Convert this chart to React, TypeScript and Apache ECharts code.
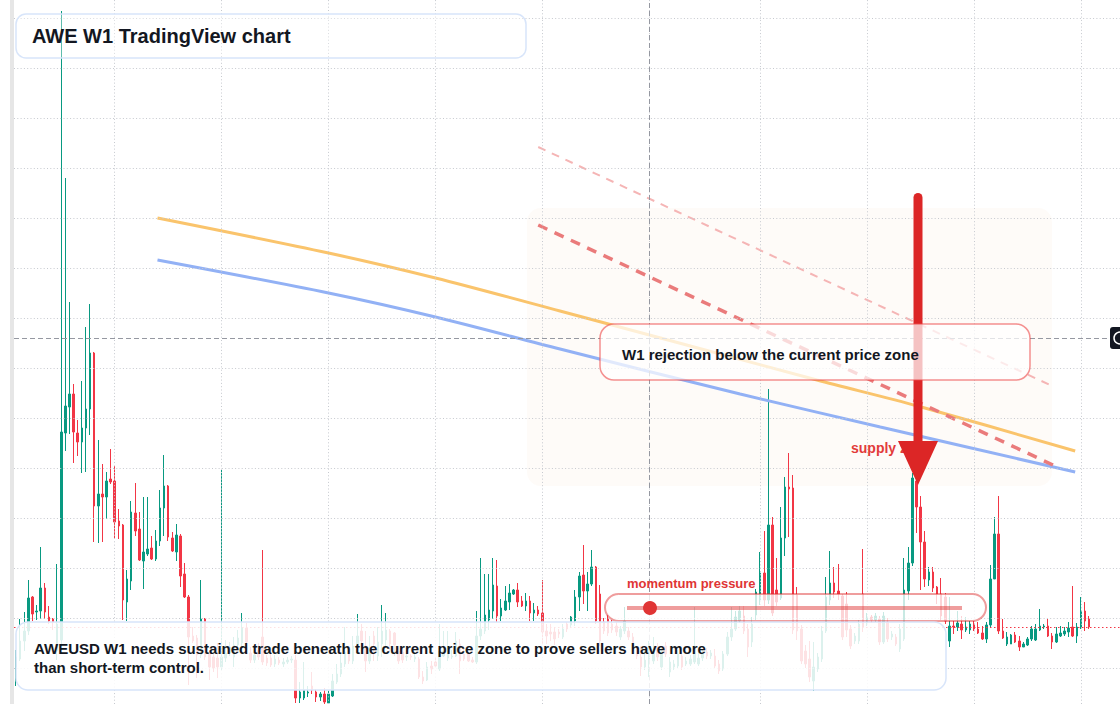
import { useEffect, useRef } from "react";
import * as echarts from "echarts";

// Weekly AWEUSD candles, prices in ten-thousandths of a dollar
const PRICE_UNIT = 10000;

const OPEN = [
  351, 359, 377, 387, 421, 406, 407, 430, 401, 399,
  367, 378, 585, 611, 624, 585, 576, 590, 609, 665,
  512, 524, 521, 539, 537, 497, 493, 416, 437, 505,
  489, 457, 464, 470, 459, 477, 510, 532, 480, 466,
  482, 444, 421, 382, 380, 363, 399, 365, 361, 360,
  351, 360, 365, 361, 373, 375, 390, 365, 358, 368,
  381, 360, 360, 354, 358, 354, 356, 358, 358, 320,
  320, 325, 332, 326, 321, 324, 315, 322, 336, 344,
  354, 364, 357, 372, 387, 372, 357, 382, 362, 374,
  378, 387, 385, 367, 366, 361, 362, 359, 359, 341,
  338, 352, 356, 349, 362, 360, 361, 362, 374, 364,
  364, 358, 356, 382, 387, 398, 407, 432, 402, 408,
  416, 424, 428, 417, 412, 417, 405, 408, 405, 387,
  386, 386, 386, 381, 394, 393, 397, 421, 443, 427,
  434, 451, 424, 396, 399, 394, 392, 381, 387, 387,
  381, 367, 361, 351, 354, 357, 371, 351, 372, 346,
  351, 352, 362, 354, 354, 356, 354, 360, 366, 362,
  362, 354, 349, 364, 381, 389, 397, 402, 389, 376,
  403, 418, 445, 418, 493, 428, 420, 480, 531, 530,
  423, 389, 367, 359, 337, 349, 359, 387, 418, 435,
  427, 422, 414, 389, 377, 377, 424, 395, 401, 398,
  399, 376, 396, 381, 381, 369, 379, 427, 455, 537,
  511, 476, 438, 446, 431, 424, 421, 377, 392, 391,
  394, 388, 388, 394, 389, 385, 379, 393, 439, 484,
  387, 374, 374, 383, 377, 371, 373, 379, 378, 388,
  391, 392, 382, 376, 382, 384, 386, 391, 382, 390,
  407, 399,
];

const CLOSE = [
  361, 377, 387, 420, 404, 407, 430, 406, 397, 396,
  394, 586, 612, 624, 586, 576, 590, 609, 665, 512,
  524, 521, 537, 536, 496, 492, 418, 439, 506, 487,
  458, 466, 469, 459, 477, 510, 532, 481, 467, 483,
  442, 421, 381, 377, 363, 399, 361, 351, 350, 351,
  361, 365, 371, 373, 380, 390, 376, 358, 363, 361,
  356, 355, 353, 359, 355, 356, 358, 359, 320, 326,
  328, 326, 328, 321, 324, 316, 324, 337, 344, 355,
  366, 357, 372, 382, 377, 357, 366, 374, 376, 387,
  388, 374, 373, 357, 358, 362, 361, 361, 341, 337,
  351, 349, 352, 367, 367, 364, 362, 377, 357, 359,
  357, 356, 382, 389, 403, 408, 433, 402, 410, 417,
  425, 428, 416, 412, 417, 405, 408, 404, 386, 382,
  384, 379, 384, 389, 389, 401, 421, 442, 427, 434,
  451, 397, 377, 387, 385, 388, 386, 389, 397, 381,
  367, 362, 351, 358, 364, 367, 361, 366, 364, 356,
  354, 364, 351, 357, 359, 372, 360, 364, 362, 365,
  352, 347, 364, 381, 389, 401, 407, 387, 371, 394,
  426, 445, 418, 493, 405, 416, 480, 531, 529, 388,
  387, 357, 354, 341, 351, 361, 387, 421, 435, 426,
  424, 381, 388, 372, 382, 394, 391, 401, 398, 402,
  376, 402, 379, 384, 374, 389, 428, 455, 540, 511,
  476, 439, 446, 430, 424, 402, 397, 392, 391, 395,
  388, 391, 394, 389, 385, 379, 393, 439, 484, 387,
  380, 381, 383, 376, 371, 374, 379, 389, 389, 392,
  392, 382, 376, 384, 385, 387, 390, 382, 391, 407,
  397, 391,
];

const LOW = [
  332, 357, 367, 383, 397, 398, 399, 399, 394, 388,
  358, 373, 567, 584, 555, 562, 545, 546, 583, 476,
  475, 476, 499, 534, 479, 479, 398, 397, 428, 482,
  457, 429, 462, 458, 457, 472, 482, 477, 466, 457,
  431, 420, 333, 375, 340, 360, 358, 338, 346, 340,
  348, 356, 362, 351, 368, 368, 368, 355, 355, 358,
  353, 352, 351, 351, 353, 351, 354, 355, 315, 315,
  318, 321, 324, 316, 317, 314, 314, 321, 334, 341,
  351, 354, 354, 364, 367, 346, 354, 357, 357, 361,
  370, 367, 362, 354, 355, 357, 358, 356, 339, 334,
  337, 344, 351, 347, 361, 357, 359, 361, 344, 357,
  356, 355, 354, 378, 384, 388, 399, 396, 397, 407,
  408, 423, 411, 411, 407, 397, 397, 402, 374, 374,
  377, 373, 380, 379, 386, 390, 392, 407, 414, 407,
  432, 394, 372, 384, 382, 385, 382, 378, 384, 378,
  364, 359, 342, 348, 341, 354, 357, 348, 361, 341,
  348, 350, 348, 352, 352, 354, 352, 357, 359, 359,
  350, 344, 347, 362, 377, 387, 395, 384, 361, 371,
  398, 413, 412, 414, 402, 412, 418, 462, 481, 384,
  378, 354, 350, 336, 327, 346, 356, 385, 413, 420,
  418, 378, 381, 369, 374, 374, 386, 392, 395, 396,
  373, 374, 376, 378, 372, 366, 377, 418, 452, 485,
  428, 431, 432, 426, 414, 398, 394, 371, 384, 387,
  379, 386, 384, 387, 384, 378, 375, 390, 439, 384,
  379, 372, 374, 375, 367, 371, 372, 377, 377, 387,
  389, 381, 369, 375, 381, 382, 381, 381, 375, 389,
  387, 389,
];

const HIGH = [
  368, 399, 406, 438, 422, 413, 471, 435, 412, 400,
  454, 1007, 840, 716, 634, 598, 637, 691, 714, 666,
  578, 554, 546, 569, 552, 509, 494, 448, 517, 535,
  506, 521, 521, 482, 488, 528, 563, 533, 486, 494,
  484, 455, 423, 391, 383, 438, 400, 368, 364, 375,
  548, 378, 376, 381, 388, 405, 395, 371, 368, 375,
  468, 363, 365, 363, 361, 360, 361, 362, 363, 336,
  356, 332, 346, 329, 326, 330, 327, 344, 354, 364,
  391, 371, 382, 404, 394, 387, 382, 387, 391, 413,
  405, 389, 386, 372, 370, 365, 364, 366, 361, 347,
  356, 357, 361, 394, 387, 387, 368, 386, 379, 372,
  366, 361, 407, 460, 444, 444, 460, 458, 419, 432,
  434, 429, 435, 422, 425, 422, 415, 412, 438, 394,
  394, 390, 389, 394, 396, 402, 428, 446, 473, 446,
  468, 452, 433, 400, 403, 398, 396, 392, 411, 391,
  385, 370, 372, 367, 377, 381, 375, 370, 376, 361,
  358, 368, 366, 361, 363, 411, 366, 368, 370, 368,
  369, 358, 367, 386, 411, 407, 412, 412, 394, 401,
  429, 466, 487, 629, 501, 460, 511, 541, 565, 543,
  431, 393, 373, 377, 376, 365, 392, 441, 467, 451,
  454, 424, 426, 393, 385, 398, 469, 405, 403, 405,
  402, 406, 400, 387, 384, 394, 460, 471, 545, 548,
  522, 487, 451, 451, 432, 440, 425, 421, 397, 407,
  402, 401, 397, 397, 396, 392, 396, 453, 501, 522,
  399, 386, 384, 386, 382, 376, 381, 392, 394, 409,
  394, 399, 385, 391, 392, 391, 396, 432, 395, 421,
  416, 402,
];

// empty weekly slots kept on the right of the last candle
const EMPTY_SLOTS = 7;
const FIRST_WEEK = "2020-11-02";

// dotted grid
const GRID_PRICES = [0.035, 0.04, 0.045, 0.05, 0.055, 0.06, 0.065, 0.07, 0.075, 0.08, 0.085, 0.09, 0.095, 0.1];
const GRID_WEEKS = [24, 50, 76, 102, 128, 154, 181, 207, 233, 259];

// crosshair
const CROSS_WEEK = 154;
const CROSS_PRICE = 0.068;

// visible price range
const Y_MIN = 0.0314;
const Y_MAX = 0.1018;

// drawn lines: [week index, price]
const ORANGE_LINE = [[34.4, 0.08], [76, 0.0765], [102, 0.074], [132.3, 0.0707], [194.8, 0.0638], [219.3, 0.0612], [257.6, 0.0567]];
const BLUE_LINE = [[34.4, 0.0758], [76, 0.0725], [102, 0.0701], [132.3, 0.0669], [176.1, 0.0624], [210.2, 0.0591], [257.6, 0.0546]];
const FAINT_DASH = [[127, 0.0871], [252, 0.0632]];
const RED_DASH = [[127, 0.0793], [252.2, 0.0553]];

const FONT = '"Liberation Sans", Arial, Helvetica, sans-serif';

export default function App() {
  const ref = useRef<HTMLDivElement>(null);

  useEffect(() => {
    if (!ref.current) return;
    const chart = echarts.init(ref.current, undefined, { renderer: "svg" });

    const n = Math.min(OPEN.length, CLOSE.length, LOW.length, HIGH.length);
    const candles = [];
    for (let i = 0; i < n; i++) {
      candles.push([OPEN[i] / PRICE_UNIT, CLOSE[i] / PRICE_UNIT, LOW[i] / PRICE_UNIT, HIGH[i] / PRICE_UNIT]);
    }
    const start = Date.parse(FIRST_WEEK + "T00:00:00Z");
    const weeks: string[] = [];
    for (let i = 0; i < n + EMPTY_SLOTS; i++) {
      weeks.push(new Date(start + i * 7 * 86400000).toISOString().slice(0, 10));
    }
    const lastClose = CLOSE[n - 1] / PRICE_UNIT;

    const hidden = { type: "line", xAxisIndex: 1, yAxisIndex: 0, data: [[0, Y_MIN]], showSymbol: false, symbol: "none", lineStyle: { opacity: 0 }, silent: true };

    const option: any = {
      animation: false,
      grid: { left: 14, right: 0, top: 0, bottom: 0, containLabel: false },
      xAxis: [
        { type: "category", data: weeks, boundaryGap: true, show: false },
        { type: "value", min: -0.5, max: weeks.length - 0.5, show: false },
      ],
      yAxis: { type: "value", min: Y_MIN, max: Y_MAX, show: false, splitLine: { show: false } },
      series: [
        {
          ...hidden,
          z: 1,
          markLine: {
            silent: true,
            symbol: ["none", "none"],
            precision: 6,
            label: { show: false },
            emphasis: { disabled: true },
            lineStyle: { color: "#c6c9cf", width: 1, type: [1, 2.3] },
            data: [...GRID_PRICES.map((p) => ({ yAxis: p })), ...GRID_WEEKS.map((w) => ({ xAxis: w }))],
          },
        },
        {
          type: "candlestick",
          xAxisIndex: 0,
          data: candles,
          barWidth: 2,
          z: 2,
          itemStyle: { color: "#089981", color0: "#f23645", borderColor: "#089981", borderColor0: "#f23645", borderWidth: 1 },
          markLine: {
            silent: true,
            symbol: ["none", "none"],
            precision: 6,
            label: { show: false },
            emphasis: { disabled: true },
            lineStyle: { color: "#f23645", width: 1, type: [1.5, 2.5] },
            data: [{ yAxis: lastClose }],
          },
        },
        {
          ...hidden,
          z: 3,
          markLine: {
            silent: true,
            symbol: ["none", "none"],
            precision: 6,
            label: { show: false },
            emphasis: { disabled: true },
            lineStyle: { color: "#9598a1", width: 1, type: [5, 3] },
            data: [{ xAxis: CROSS_WEEK }, { yAxis: CROSS_PRICE }],
          },
        },
        { type: "line", xAxisIndex: 1, data: ORANGE_LINE, smooth: 0.3, showSymbol: false, symbol: "none", z: 4, silent: true, lineStyle: { color: "#fac46c", width: 3 } },
        { type: "line", xAxisIndex: 1, data: BLUE_LINE, smooth: 0.3, showSymbol: false, symbol: "none", z: 4, silent: true, lineStyle: { color: "#92b1f5", width: 3 } },
        { type: "line", xAxisIndex: 1, data: FAINT_DASH, showSymbol: false, symbol: "none", z: 4, silent: true, lineStyle: { color: "#f5b5b5", width: 2, type: [8, 7] } },
        { type: "line", xAxisIndex: 1, data: RED_DASH, showSymbol: false, symbol: "none", z: 4, silent: true, lineStyle: { color: "#ea7b7b", width: 3.5, type: [10, 8] } },
      ],
      graphic: {
        elements: [
          { type: "rect", z: 0, silent: true, shape: { x: 527, y: 208, width: 525, height: 278, r: 14 }, style: { fill: "rgba(240,200,160,0.08)" } },
          { type: "rect", z: 5, silent: true, shape: { x: 10, y: 0, width: 4, height: 704 }, style: { fill: "#e6e6e6" } },
          { type: "text", z: 45, x: 851, y: 448, style: { text: "supply zone", fill: "#e23b3b", fontSize: 14, fontWeight: "bold", fontFamily: FONT, verticalAlign: "middle" } },
          { type: "line", z: 50, shape: { x1: 918, y1: 197.5, x2: 918, y2: 444 }, style: { stroke: "#dc2626", lineWidth: 9, lineCap: "round" } },
          { type: "polygon", z: 50, shape: { points: [[898, 441], [938, 441], [918, 485]] }, style: { fill: "#dc2626" } },
          { type: "rect", z: 60, shape: { x: 600, y: 324, width: 430, height: 56, r: 14 }, style: { fill: "rgba(255,255,255,0.72)", stroke: "rgba(236,72,72,0.6)", lineWidth: 1.5 } },
          { type: "text", z: 61, x: 622, y: 354, style: { text: "W1 rejection below the current price zone", fill: "#131722", fontSize: 15, fontWeight: "bold", fontFamily: FONT, verticalAlign: "middle" } },
          { type: "rect", z: 60, shape: { x: 605, y: 594, width: 381, height: 27, r: 13.5 }, style: { fill: "rgba(255,255,255,0.78)", stroke: "rgba(220,38,38,0.45)", lineWidth: 2 } },
          { type: "line", z: 61, shape: { x1: 627, y1: 608, x2: 962, y2: 608 }, style: { stroke: "rgba(220,38,38,0.45)", lineWidth: 4 } },
          { type: "circle", z: 62, shape: { cx: 650, cy: 608, r: 7 }, style: { fill: "#e03535" } },
          { type: "text", z: 61, x: 627, y: 583, style: { text: "momentum pressure", fill: "#e03535", fontSize: 13, fontWeight: "bold", fontFamily: FONT, verticalAlign: "middle" } },
          { type: "rect", z: 70, shape: { x: 16, y: 622, width: 930, height: 68, r: 12 }, style: { fill: "rgba(255,255,255,0.86)", stroke: "#d8e5fa", lineWidth: 1.5 } },
          { type: "text", z: 71, x: 34, y: 648, style: { text: "AWEUSD W1 needs sustained trade beneath the current price zone to prove sellers have more", fill: "#131722", fontSize: 15, fontWeight: "bold", fontFamily: FONT, verticalAlign: "middle" } },
          { type: "text", z: 71, x: 34, y: 667.5, style: { text: "than short-term control.", fill: "#131722", fontSize: 15, fontWeight: "bold", fontFamily: FONT, verticalAlign: "middle" } },
          { type: "rect", z: 70, shape: { x: 16, y: 14, width: 510, height: 44, r: 10 }, style: { fill: "rgba(255,255,255,0.35)", stroke: "#d8e5fa", lineWidth: 1.5 } },
          { type: "text", z: 71, x: 32, y: 36, style: { text: "AWE W1 TradingView chart", fill: "#131722", fontSize: 20, fontWeight: "bold", fontFamily: FONT, verticalAlign: "middle" } },
          { type: "rect", z: 70, shape: { x: 1110, y: 327, width: 14, height: 22, r: 3 }, style: { fill: "#131722" } },
          { type: "circle", z: 71, shape: { cx: 1120, cy: 338, r: 6 }, style: { fill: "none", stroke: "#ffffff", lineWidth: 1.5 } },
        ],
      },
    };

    chart.setOption(option);
    return () => chart.dispose();
  }, []);

  return <div ref={ref} style={{ position: "absolute", left: 0, top: 0, width: 1120, height: 704, background: "#ffffff" }} />;
}
